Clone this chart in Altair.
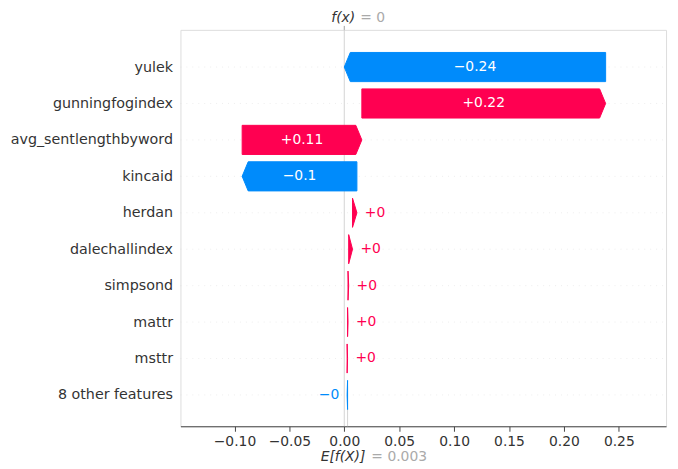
import json
import re
import altair as alt
import pandas as pd

# ---- data ----
features = ["yulek", "gunningfogindex", "avg_sentlengthbyword", "kincaid", "herdan",
            "dalechallindex", "simpsond", "mattr", "msttr", "8 other features"]
shap_values = [-0.238, 0.222, 0.109, -0.1045, 0.004, 0.0035, 0.0006, 0.0004, 0.0004, -0.0004]
base_value = 0.003
fx_value = 0.0
tick_values = [-0.10, -0.05, 0.00, 0.05, 0.10, 0.15, 0.20, 0.25]

RED = "#ff0051"
BLUE = "#008bfb"
HEAD = 0.0055      # arrow head length (data units)
HALF = 0.4         # half bar height (row units)
W, H = 490, 400


def fmt(v, f="%+0.02f"):
    s = f % v
    s = re.sub(r"\.?0+$", "", s)
    if s[0] == "-":
        s = "\u2212" + s[1:]
    return s


# cumulative positions (waterfall built from bottom row upward)
starts = [0.0] * len(features)
ends = [0.0] * len(features)
cum = base_value
for i in range(len(features) - 1, -1, -1):
    starts[i] = cum
    ends[i] = cum + shap_values[i]
    cum = ends[i]

poly_rows, bar_rows = [], []
for i, (f, v) in enumerate(zip(features, shap_values)):
    s, e = starts[i], ends[i]
    sign = 1 if v >= 0 else -1
    h = min(abs(v), HEAD)
    d = "pos" if v >= 0 else "neg"
    for x, y1, y2 in [(s, i - HALF, i + HALF), (e - sign * h, i - HALF, i + HALF), (e, i, i)]:
        poly_rows.append({"feature": f, "x": x, "top": y1, "bot": y2, "dir": d})
    bar_rows.append({"feature": f, "row": i, "start": s, "end": e, "mid": (s + e) / 2,
                     "label": fmt(v), "dir": d, "inside": abs(v) > 0.03})

poly = pd.DataFrame(poly_rows)
bars = pd.DataFrame(bar_rows)
marks = pd.DataFrame({"fx": [fx_value], "base": [base_value]})

xscale = alt.Scale(domain=[-0.1492, 0.293], nice=False, zero=False)
yscale = alt.Scale(domain=[-1.02, 9.86], reverse=True, nice=False, zero=False)
xaxis = alt.Axis(values=tick_values, format=".2f", title=None, grid=False,
                 labelFontSize=14, labelColor="#333333", domainColor="#444444",
                 tickColor="#444444", tickSize=5, labelPadding=3, labelFont="DejaVu Sans")
yaxis = alt.Axis(values=list(range(len(features))),
                 labelExpr=json.dumps(features) + "[datum.value]",
                 ticks=False, domain=False, grid=False, title=None,
                 labelFontSize=14.4, labelColor="#333333", labelPadding=8, labelFont="DejaVu Sans")


def X(field):
    return alt.X(field, type="quantitative", scale=xscale, axis=xaxis)


def Y(field):
    return alt.Y(field, type="quantitative", scale=yscale, axis=yaxis, stack=False)


color_scale = alt.Scale(domain=["pos", "neg"], range=[RED, BLUE])

grid = alt.Chart(bars).mark_rule(color="#dddddd", strokeWidth=0.5, strokeDash=[1, 5]).encode(
    y=Y("row"), x=alt.value(0), x2=alt.value(W))

fx_line = alt.Chart(marks).mark_rule(color="#c8c8c8", strokeWidth=0.8).encode(
    x=X("fx"), y=alt.value(0), y2=alt.value(H))
base_line = alt.Chart(marks).mark_rule(color="#c8c8c8", strokeWidth=0.8).encode(
    x=X("base"), y=alt.value(H - 40), y2=alt.value(H))
fx_tick = alt.Chart(marks).mark_rule(color="#888888", strokeWidth=0.8).encode(
    x=X("fx"), y=alt.value(-4), y2=alt.value(0))

arrows = alt.Chart(poly).mark_area(strokeWidth=1, interpolate="linear").encode(
    x=X("x"), y=Y("top"), y2="bot",
    detail="feature:N",
    color=alt.Color("dir:N", scale=color_scale, legend=None),
    stroke=alt.Stroke("dir:N", scale=color_scale, legend=None),
)

inside_text = alt.Chart(bars).transform_filter("datum.inside").mark_text(
    color="white", fontSize=14, align="center", baseline="middle", font="DejaVu Sans").encode(
    x=X("mid"), y=Y("row"), text="label:N")

pos_text = alt.Chart(bars).transform_filter("!datum.inside && datum.dir == 'pos'").mark_text(
    color=RED, fontSize=14, align="left", baseline="middle", dx=8, font="DejaVu Sans").encode(
    x=X("end"), y=Y("row"), text="label:N")

neg_text = alt.Chart(bars).transform_filter("!datum.inside && datum.dir == 'neg'").mark_text(
    color=BLUE, fontSize=14, align="right", baseline="middle", dx=-8, font="DejaVu Sans").encode(
    x=X("end"), y=Y("row"), text="label:N")

fx_label1 = alt.Chart(marks).mark_text(
    text="f(x)", fontStyle="italic", color="#333333", fontSize=14, align="right",
    baseline="middle", dx=11, font="DejaVu Sans").encode(x=X("fx"), y=alt.value(-12))
fx_label2 = alt.Chart(marks).mark_text(
    text="= " + fmt(fx_value, "%0.03f"), color="#aaaaaa", fontSize=14, align="left",
    baseline="middle", dx=16, font="DejaVu Sans").encode(x=X("fx"), y=alt.value(-12))

base_label1 = alt.Chart(marks).mark_text(
    text="E[f(X)]", fontStyle="italic", color="#333333", fontSize=14, align="right",
    baseline="middle", dx=18, font="DejaVu Sans").encode(x=X("base"), y=alt.value(H + 31))
base_label2 = alt.Chart(marks).mark_text(
    text="= " + fmt(base_value, "%0.03f"), color="#aaaaaa", fontSize=14, align="left",
    baseline="middle", dx=24, font="DejaVu Sans").encode(x=X("base"), y=alt.value(H + 31))

chart = alt.layer(
    grid, fx_line, base_line, fx_tick, arrows, inside_text, pos_text, neg_text,
    fx_label1, fx_label2, base_label1, base_label2
).properties(
    width=W, height=H,
    autosize=alt.AutoSizeParams(type="none"),
    padding={"left": 174, "top": 20, "right": 4, "bottom": 38},
).configure_view(strokeWidth=0).configure(font="DejaVu Sans")

chart.save("out.html", embed_options={"renderer": "svg", "actions": False})
